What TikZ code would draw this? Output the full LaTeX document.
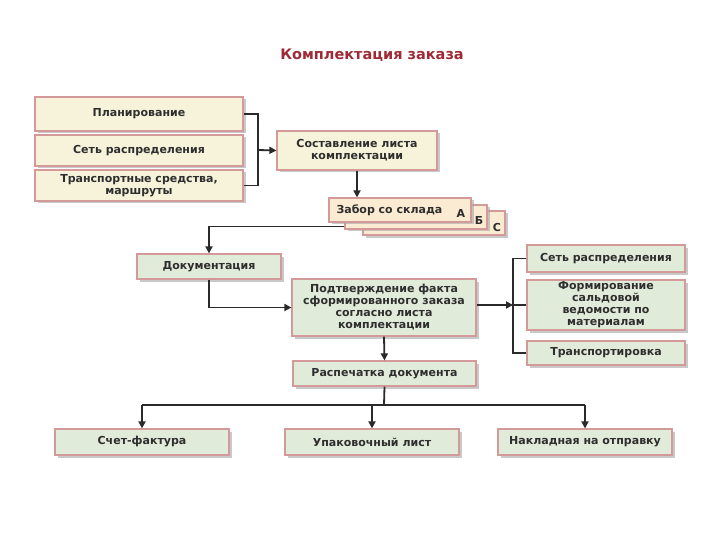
\documentclass[tikz,border=0pt]{standalone}
\usepackage{fontspec}
\setmainfont{DejaVu Sans}
\usetikzlibrary{shadows,arrows.meta}
\definecolor{cream}{HTML}{F7F2DA}
\definecolor{peach}{HTML}{FBEBD3}
\definecolor{greenbox}{HTML}{E1EBDA}
\definecolor{bord}{HTML}{D49A9A}
\definecolor{titlered}{HTML}{9E2A35}
\definecolor{txt}{HTML}{2E2E2E}
\definecolor{ln}{HTML}{2A2A2A}
\tikzset{
  bxfont/.style={font=\fontsize{11}{12}\selectfont\bfseries, text=txt},
  box/.style={draw=bord, line width=1.2pt, inner sep=1pt, align=center, bxfont,
    drop shadow={shadow xshift=2.5pt, shadow yshift=-2.5pt, fill=black!35, opacity=0.6}},
  cbox/.style={box, fill=cream},
  pbox/.style={box, fill=peach},
  gbox/.style={box, fill=greenbox},
  lnk/.style={draw=ln, line width=1.8pt},
  arr/.style={lnk, -{Triangle[length=7pt,width=7pt]}},
}
\newcommand{\bx}[7]{% style, name, x1, y1, x2, y2, text
  \node[#1, minimum width={(#5-#3)*1pt}, minimum height={(#6-#4)*1pt}] (#2) at ({(#3+#5)/2},{(#4+#6)/2}) {#7};}
\begin{document}
\begin{tikzpicture}[x=1pt,y=-1pt]
\useasboundingbox[fill=white] (0,0) rectangle (720,540);
\node[font=\fontsize{14.5}{16}\selectfont\bfseries, text=titlered] (title) at (372,55) {Комплектация заказа};

\bx{cbox}{plan}{35}{97}{243}{131}{Планирование}
\bx{cbox}{set}{35}{135}{243}{166}{Сеть распределения}
\bx{cbox}{trans}{35}{170}{243}{201}{Транспортные средства,\\маршруты}
\bx{cbox}{sost}{277}{131}{437}{170}{Составление листа\\комплектации}

\bx{pbox}{zabC}{363}{211}{505}{235}{}
\bx{pbox}{zabB}{345}{205}{487}{229}{}
\bx{pbox}{zab}{329}{198}{471}{222}{}
\node[bxfont, anchor=west] (zabt) at (333,210) {Забор со склада};
\node[bxfont] (la) at (461,213) {А};
\node[bxfont] (lb) at (479,220) {Б};
\node[bxfont] (lc) at (497,227) {С};

\bx{gbox}{doc}{137}{254}{281}{279}{Документация}
\bx{gbox}{conf}{292}{279}{476}{336}{Подтверждение факта\\сформированного заказа\\согласно листа\\комплектации}
\bx{gbox}{rset}{527}{245}{685}{272}{Сеть распределения}
\bx{gbox}{form}{527}{280}{685}{330}{Формирование\\сальдовой\\ведомости по\\материалам}
\bx{gbox}{rtr}{527}{341}{685}{365}{Транспортировка}
\bx{gbox}{print}{293}{361}{476}{386}{Распечатка документа}
\bx{gbox}{inv}{55}{429}{229}{455}{Счет-фактура}
\bx{gbox}{pack}{285}{429}{459}{455}{Упаковочный лист}
\bx{gbox}{bill}{498}{429}{672}{455}{Накладная на отправку}

% left bracket
\coordinate (bl) at (258,150);
\draw[lnk] (plan.east) -- (plan.east -| bl) -- (trans.east -| bl) -- (trans.east);
\draw[arr] (bl) -- (sost.west);
\draw[arr] (sost.south) -- (sost.south |- zab.north);
\draw[arr] ([yshift=3pt]zabB.south west) -| (doc.north);
\draw[arr] (doc.south) |- (conf.west);

% right bracket
\coordinate (br) at (513,305);
\draw[lnk] (rset.west) -- (rset.west -| br) -- (rtr.west -| br) -- (rtr.west);
\draw[lnk] (br |- form.west) -- (form.west);
\draw[arr] (conf.east |- br) -- (br);

\draw[arr] (conf.south) -- (print.north);
\coordinate (bj) at (384,405);
\draw[lnk] (print.south) -- (bj);
\draw[lnk] (inv.north |- bj) -- (bill.north |- bj);
\draw[arr] (inv.north |- bj) -- (inv.north);
\draw[arr] (pack.north |- bj) -- (pack.north);
\draw[arr] (bill.north |- bj) -- (bill.north);
\end{tikzpicture}
\end{document}
